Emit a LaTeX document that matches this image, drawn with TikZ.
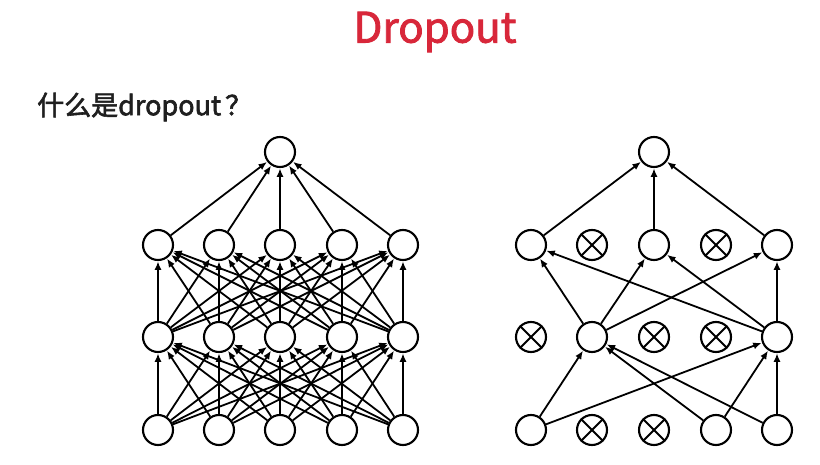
\documentclass[tikz,border=0pt]{standalone}
\usepackage{fontspec}
\newfontfamily\cjkmed[FakeBold=2]{Noto Sans CJK SC}
\newfontfamily\cjksub[FakeBold=2.2]{Noto Sans CJK SC}
\usetikzlibrary{arrows.meta}
\definecolor{titlered}{HTML}{D8273A}
\begin{document}
\begin{tikzpicture}[x=1pt,y=-1pt,
  neuron/.style={circle,draw,line width=2.1pt,minimum size=30pt,inner sep=0pt,fill=white},
  conn/.style={line width=1.8pt,-{Latex[length=8.5pt,width=7pt]},shorten >=0.3pt},
  dropx/.style={line width=1.8pt}]
\useasboundingbox (0,0) rectangle (820,465);
\fill[white] (0,0) rectangle (820,465);
\node[font=\cjkmed\fontsize{42}{48}\selectfont,text=titlered] (title) at (435,32) {Dropout};
\node[font=\cjksub\fontsize{27}{32}\selectfont,anchor=west,inner sep=0pt,text=black!88] (sub) at (37,107) {什么是dropout\kern4pt？};
% left network
\foreach \c/\x in {0/158,1/219,2/280,3/342,4/403}{
  \node[neuron] (Li\c) at (\x,430) {};
  \node[neuron] (La\c) at (\x,337) {};
  \node[neuron] (Lb\c) at (\x,245) {};
}
\node[neuron] (Lt) at (280,152) {};
\foreach \i in {0,...,4}{
  \foreach \j in {0,...,4}{
    \draw[conn] (Li\i) -- (La\j);
    \draw[conn] (La\i) -- (Lb\j);
  }
  \draw[conn] (Lb\i) -- (Lt);
}
% right network
\foreach \c/\x in {0/531,1/592,2/654,3/716,4/777}{
  \node[neuron] (Ri\c) at (\x,430) {};
  \node[neuron] (Ra\c) at (\x,337) {};
  \node[neuron] (Rb\c) at (\x,245) {};
}
\node[neuron] (Rt) at (654,152) {};
\foreach \n in {Ri1,Ri2,Ra0,Ra2,Ra3,Rb1,Rb3}{
  \draw[dropx] (\n.45) -- (\n.225);
  \draw[dropx] (\n.135) -- (\n.315);
}
\foreach \b in {0,2,4}{\draw[conn] (Rb\b) -- (Rt);}
\foreach \a in {1,4}{
  \foreach \b in {0,2,4}{\draw[conn] (Ra\a) -- (Rb\b);}
}
\foreach \i in {0,3,4}{
  \foreach \a in {1,4}{\draw[conn] (Ri\i) -- (Ra\a);}
}
\end{tikzpicture}
\end{document}
